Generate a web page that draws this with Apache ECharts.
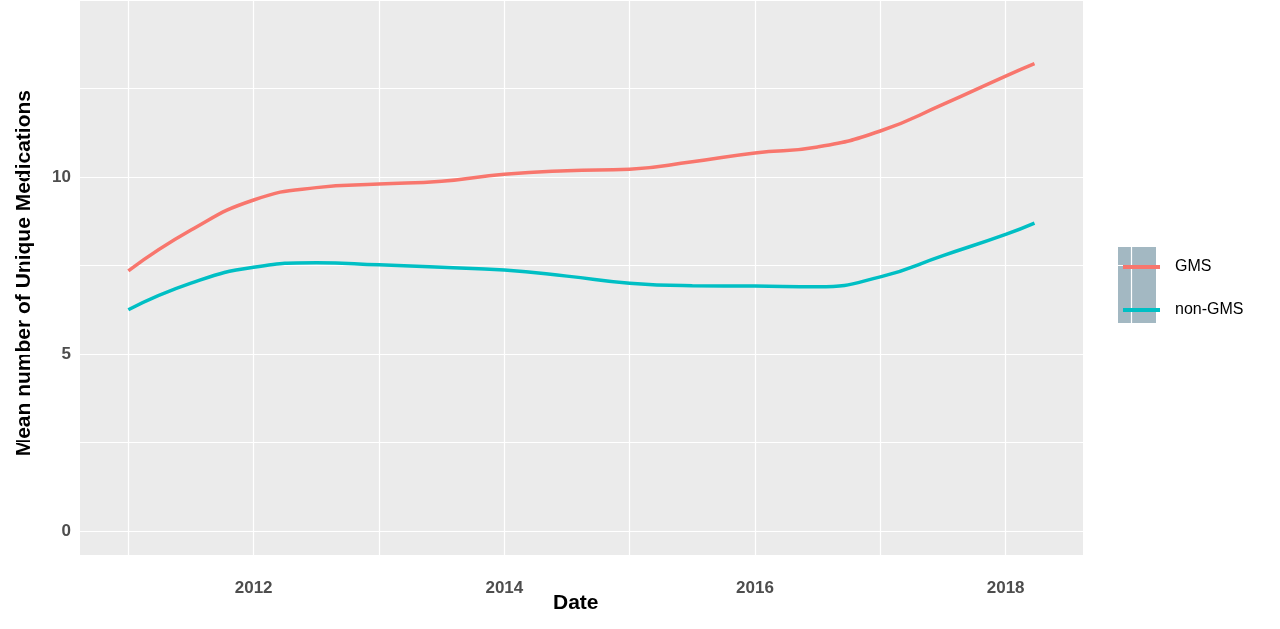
<!DOCTYPE html>
<html><head><meta charset="utf-8">
<script src="https://cdn.jsdelivr.net/npm/echarts@6/dist/echarts.min.js"></script>
<style>html,body{margin:0;background:#fff}#c{width:1280px;height:629px}</style>
</head><body><div id="c"></div>
<script>
const years = [2011,2011.5,2012,2012.5,2013,2013.5,2014,2014.5,2015,2015.5,2016,2016.5,2017,2017.5,2018,2018.23];
const gms = [7.35,8.5,9.35,9.7,9.8,9.88,10.08,10.18,10.22,10.43,10.68,10.85,11.3,12.05,12.85,13.2];
const nonGms = [6.25,7.0,7.45,7.58,7.52,7.45,7.37,7.2,7.0,6.93,6.92,6.9,7.18,7.78,8.38,8.7];
const gmsSe = [0.05,0.03,0.03,0.03,0.03,0.03,0.03,0.03,0.03,0.03,0.03,0.03,0.04,0.06,0.12,0.22];
const nonSe = [0.05,0.03,0.03,0.03,0.03,0.03,0.03,0.03,0.03,0.03,0.03,0.03,0.04,0.06,0.14,0.28];
const xTicks = [2012,2014,2016,2018];
const yTicks = [0,5,10];
const band = (v,se,n)=>[
 {type:'line',data:years.map((x,i)=>[x,v[i]-se[i]]),stack:n,symbol:'none',smooth:true,lineStyle:{opacity:0},silent:true},
 {type:'line',data:years.map((x,i)=>[x,2*se[i]]),stack:n,symbol:'none',smooth:true,lineStyle:{opacity:0},areaStyle:{color:'rgba(150,150,150,0.45)'},silent:true}];
const c = echarts.init(document.getElementById('c'));
const axLab = {color:'#4d4d4d',fontSize:17,fontWeight:'bold',fontFamily:'Liberation Sans'};
const ttl = {fontSize:21,fontWeight:'bold',fill:'#000',fontFamily:'Liberation Sans'};
c.setOption({
 animation:false,
 grid:{left:0,width:1131,top:-7,height:626.5,show:false},
 xAxis:{type:'value',min:2010,max:2019,interval:1,
  axisLabel:{...axLab,margin:-40,formatter:v=>xTicks.includes(v)?String(v):''},
  axisLine:{show:false},axisTick:{show:false},
  splitLine:{lineStyle:{color:'#fff',width:1.2}}},
 yAxis:{type:'value',min:-2.5,max:15,interval:2.5,
  axisLabel:{...axLab,margin:-68,formatter:v=>yTicks.includes(v)?String(v):''},
  axisLine:{show:false},axisTick:{show:false},
  splitLine:{lineStyle:{color:'#fff',width:1.2}}},
 legend:{orient:'vertical',left:1118,top:254,itemWidth:37,itemHeight:4,itemGap:27,
  textStyle:{fontSize:16,color:'#000',fontFamily:'Liberation Sans',padding:[0,0,0,10]},
  data:[{name:'GMS',icon:'rect'},{name:'non-GMS',icon:'rect'}]},
 graphic:[
  {type:'rect',left:80,top:0,shape:{width:1003,height:555},style:{fill:'#ebebeb'},z:-10,silent:true},
  {type:'rect',left:1118,top:247,shape:{width:38,height:76},style:{fill:'#a3b8c2'},z:-1},
  {type:'text',left:553,top:593,style:{text:'Date',...ttl}},
  {type:'text',left:14,top:90,rotation:Math.PI/2,style:{text:'Mean number of Unique Medications',...ttl}}],
 series:[...band(gms,gmsSe,'g'),...band(nonGms,nonSe,'n'),
  {name:'GMS',type:'line',data:years.map((x,i)=>[x,gms[i]]),smooth:true,symbol:'none',lineStyle:{color:'#f8766d',width:3.5},itemStyle:{color:'#f8766d'}},
  {name:'non-GMS',type:'line',data:years.map((x,i)=>[x,nonGms[i]]),smooth:true,symbol:'none',lineStyle:{color:'#00bfc4',width:3.5},itemStyle:{color:'#00bfc4'}}]
});
</script></body></html>
